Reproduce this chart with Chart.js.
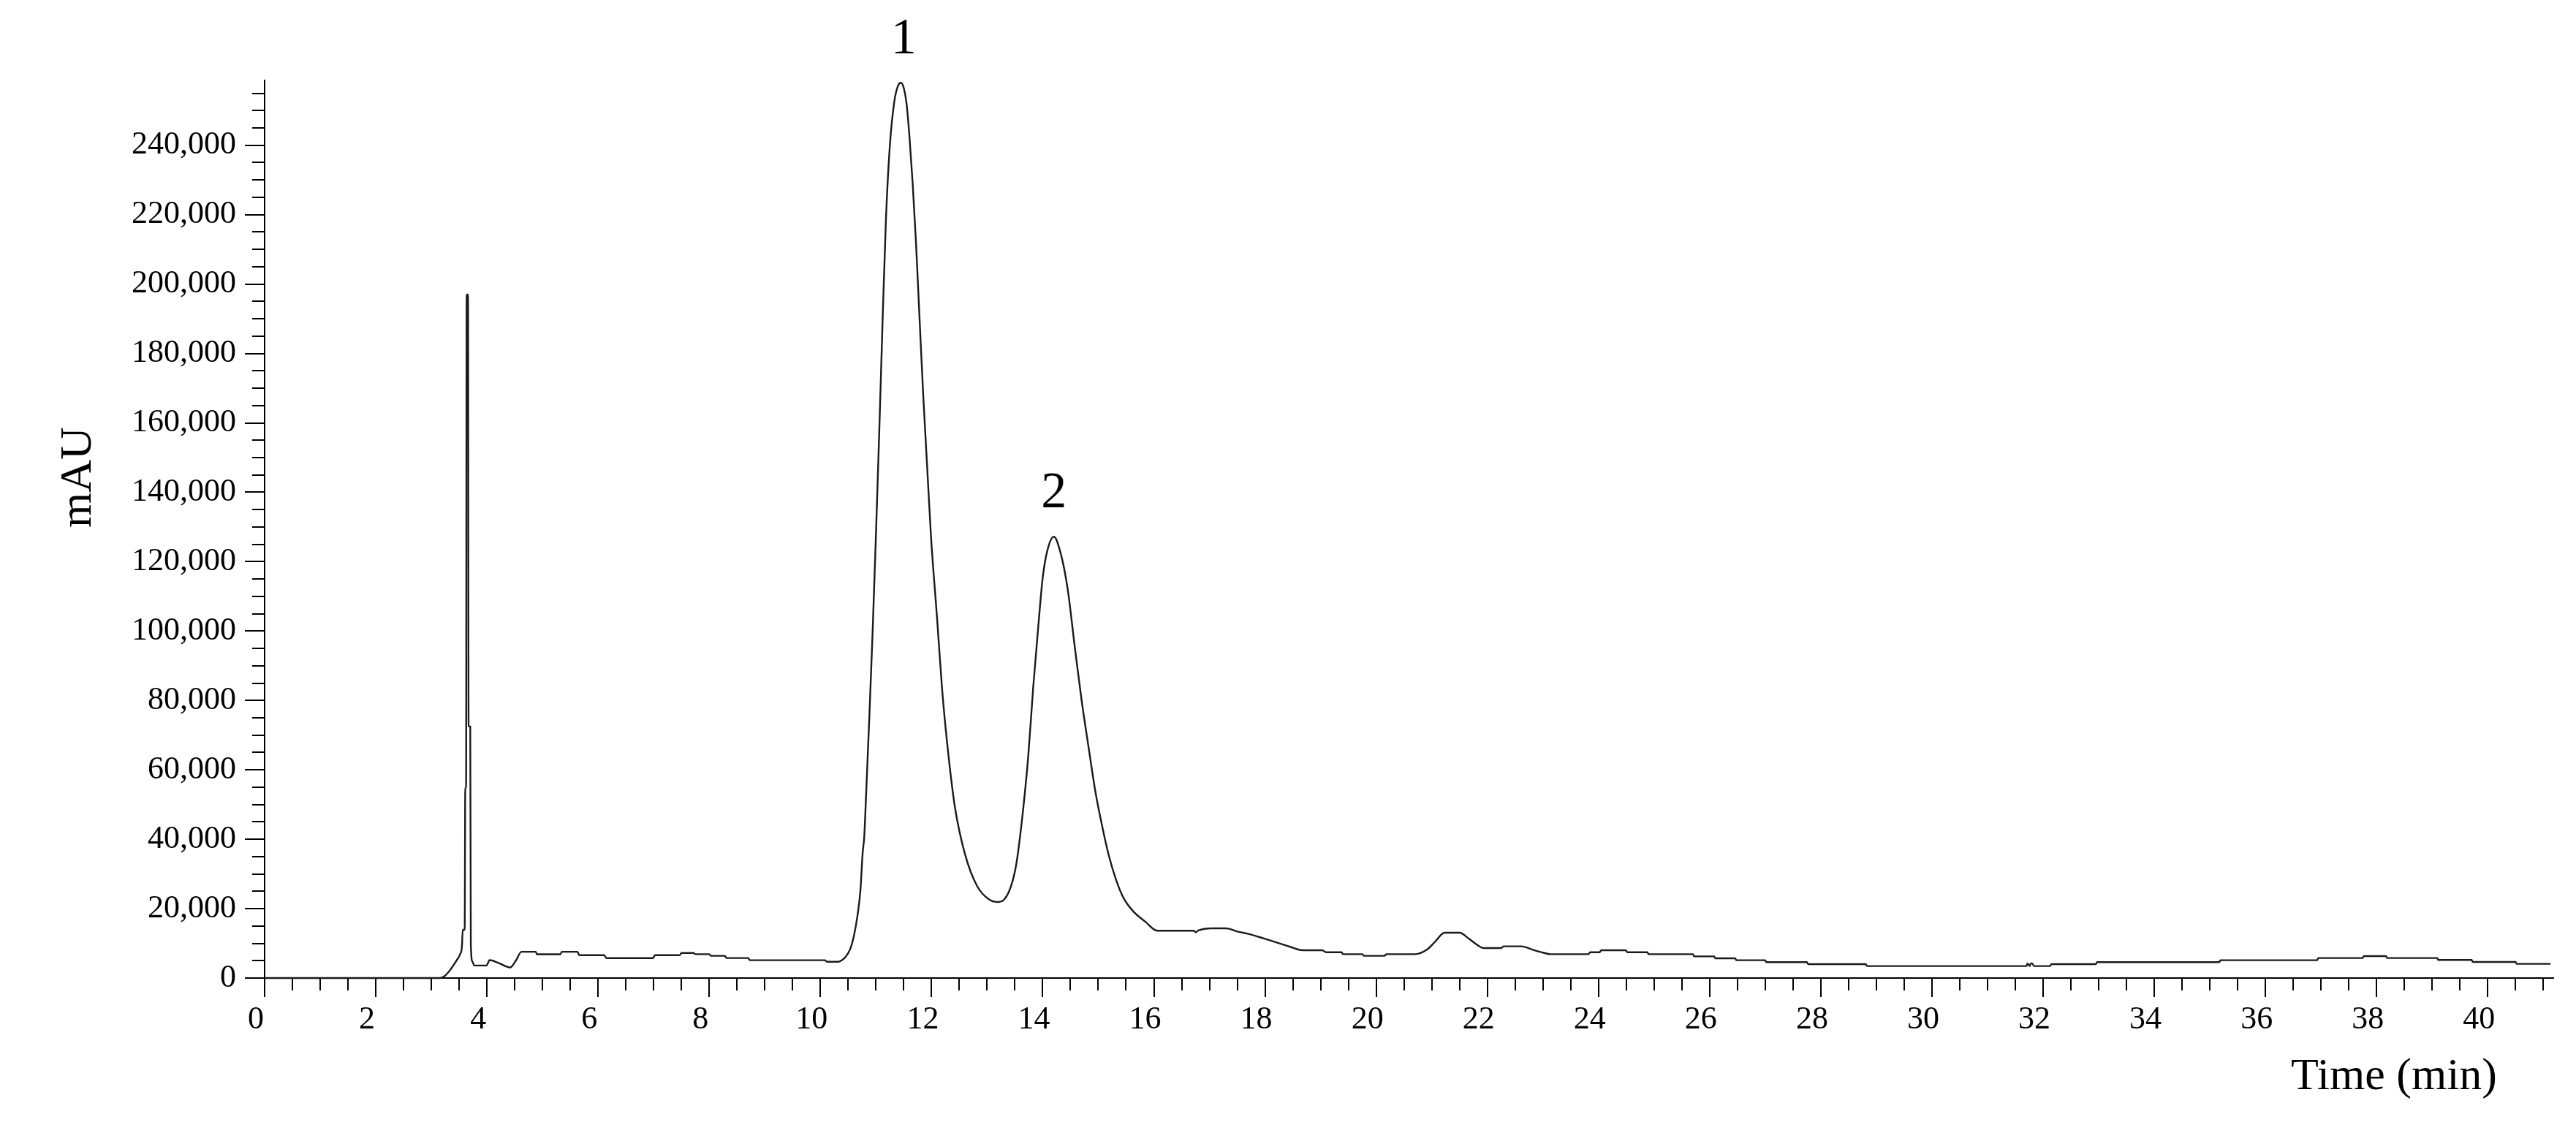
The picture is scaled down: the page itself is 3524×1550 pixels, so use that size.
<!DOCTYPE html>
<html>
<head>
<meta charset="utf-8">
<title>Chromatogram</title>
<script src="https://cdn.jsdelivr.net/npm/chart.js@4.4.1/dist/chart.umd.min.js"></script>
<style>
  html, body { margin: 0; padding: 0; background: #fff; }
  canvas { display: block; }
</style>
</head>
<body>
<canvas id="chromChart" width="3524" height="1550"></canvas>
<script>
// retention time (min) and detector signal (mAU)
const times = [
  0, 3.15, 3.25, 3.35, 3.45, 3.52, 3.55, 3.565, 3.60, 3.61, 3.625, 3.635, 3.66, 3.67, 3.70, 3.71, 3.74, 3.77,
  3.99, 4.05, 4.20, 4.42, 4.52, 4.62, 4.88, 4.90, 5.32, 5.35, 5.63, 5.66, 6.11, 6.15, 6.99, 7.02, 7.47, 7.50,
  7.72, 7.75, 8.00, 8.03, 8.28, 8.31, 8.70, 8.73, 10.08, 10.12, 10.32, 10.40, 10.45, 10.54, 10.61, 10.67, 10.72,
  10.76, 10.79, 10.82, 10.88, 10.94, 11.00, 11.06, 11.12, 11.18, 11.25, 11.33, 11.40, 11.45, 11.50, 11.55, 11.60,
  11.66, 11.72, 11.79, 11.85, 11.92, 11.99, 12.10, 12.19, 12.29, 12.42, 12.60, 12.82, 13.04, 13.21, 13.39, 13.52,
  13.63, 13.74, 13.83, 13.93, 14.00, 14.08, 14.20, 14.33, 14.45, 14.58, 14.70, 14.83, 14.95, 15.08, 15.19, 15.32,
  15.45, 15.63, 15.85, 16.06, 16.72, 16.75, 16.80, 17.03, 17.30, 17.50, 17.74, 17.97, 18.21, 18.44, 18.68, 19.03,
  19.10, 19.38, 19.40, 19.75, 19.78, 20.15, 20.18, 20.70, 20.91, 21.06, 21.23, 21.50, 21.67, 21.85, 21.93, 22.25,
  22.29, 22.61, 22.82, 22.97, 23.14, 23.82, 23.85, 24.02, 24.05, 24.49, 24.52, 24.88, 24.90, 25.70, 25.72, 26.08,
  26.10, 26.46, 26.48, 27.00, 27.02, 27.75, 27.77, 28.81, 28.83, 31.70, 31.72, 31.76, 31.78, 31.80, 31.84, 32.12,
  32.15, 32.95, 32.97, 35.17, 35.19, 36.93, 36.95, 37.75, 37.77, 38.17, 38.19, 39.09, 39.11, 39.71, 39.73, 40.50,
  40.52, 41.13
];
const signal = [
  0, 0, 700, 2600, 5000, 7000, 9000, 13900, 13900, 54800, 54800, 197000, 197000, 72500, 72500, 9700, 4700, 3600,
  3600, 5150, 4400, 3050, 5000, 7560, 7560, 6850, 6850, 7560, 7560, 6570, 6570, 5730, 5730, 6570, 6570, 7200,
  7200, 6880, 6880, 6390, 6390, 5760, 5760, 5130, 5130, 4700, 4700, 5300, 6040, 8500, 12700, 18300, 25300,
  36000, 41000, 52000, 75000, 100000, 128000, 158000, 190000, 219000, 240000, 252600, 257300, 258000, 256500, 252000, 243000,
  229000, 212000, 188000, 168000, 147600, 127200, 103500, 83200, 66300, 49300, 35800, 26500, 22600, 21900, 24800, 32400,
  46000, 64000, 84000, 103200, 115400, 123000, 127200, 122000, 112000, 95000, 80000, 66000, 53500, 43000, 35300, 28300,
  23200, 19200, 16200, 13650, 13650, 13200, 13700, 14330, 14330, 13400, 12570, 11450, 10250, 9060, 8000, 8000,
  7440, 7440, 6880, 6880, 6390, 6390, 6880, 6880, 8150, 10470, 13060, 13060, 11300, 9200, 8640, 8640,
  9130, 9130, 8150, 7440, 6880, 6880, 7440, 7440, 8000, 8000, 7440, 7440, 6880, 6880, 6250, 6250,
  5690, 5690, 5130, 5130, 4570, 4570, 4000, 4000, 3440, 3440, 4250, 3440, 4250, 4250, 3440, 3440,
  4000, 4000, 4570, 4570, 5130, 5130, 5760, 5760, 6320, 6320, 5760, 5760, 5200, 5200, 4640, 4640,
  4080, 4080
];

const xTicks = [0, 2, 4, 6, 8, 10, 12, 14, 16, 18, 20, 22, 24, 26, 28, 30, 32, 34, 36, 38, 40];
const yTicks = [0, 20000, 40000, 60000, 80000, 100000, 120000, 140000, 160000, 180000, 200000, 220000, 240000];
const xMinorStep = 0.5;
const yMinorStep = 5000;

const peakNames = ['1', '2'];
const peakTimes = [11.5, 14.2];
const peakTops = [258000, 127200];

const serif = "'Liberation Serif', 'Times New Roman', serif";

// minor/major tick marks, peak numbers and axis titles
const chromDecor = {
    id: 'chromDecor',
    afterDraw(chart) {
        const ctx = chart.ctx;
        const area = chart.chartArea;
        const x = chart.scales.x;
        const y = chart.scales.y;
        ctx.save();
        ctx.strokeStyle = '#000';
        ctx.lineWidth = 2;
        ctx.beginPath();
        for (let i = 0; i * xMinorStep <= x.max + 1e-9; i++) {
            const px = Math.round(x.getPixelForValue(i * xMinorStep));
            const len = i % 4 === 0 ? 26 : 17;
            ctx.moveTo(px, area.bottom);
            ctx.lineTo(px, area.bottom + len);
        }
        for (let i = 0; i * yMinorStep <= y.max + 1e-9; i++) {
            const py = Math.round(y.getPixelForValue(i * yMinorStep));
            const len = i % 4 === 0 ? 27 : 17;
            ctx.moveTo(area.left, py);
            ctx.lineTo(area.left - len, py);
        }
        ctx.stroke();

        ctx.fillStyle = '#000';
        ctx.textAlign = 'center';
        ctx.textBaseline = 'alphabetic';
        ctx.font = '70px ' + serif;
        peakNames.forEach((name, i) => {
            ctx.fillText(name, x.getPixelForValue(peakTimes[i]), y.getPixelForValue(peakTops[i]) - 40);
        });

        ctx.font = '62px ' + serif;
        ctx.textAlign = 'right';
        ctx.fillText('Time (min)', area.right - 77, area.bottom + 152);

        ctx.translate(124, 653);
        ctx.rotate(-Math.PI / 2);
        ctx.textAlign = 'center';
        ctx.fillText('mAU', 0, 0);
        ctx.restore();
    }
};

const points = times.map((t, i) => ({ x: t, y: signal[i] }));

new Chart(document.getElementById('chromChart'), {
    type: 'line',
    data: {
        datasets: [{
            label: 'mAU',
            data: points,
            borderColor: '#1a1a1a',
            borderWidth: 2.4,
            pointRadius: 0,
            cubicInterpolationMode: 'monotone',
            fill: false,
            clip: 4
        }]
    },
    options: {
        responsive: false,
        animation: false,
        devicePixelRatio: 1,
        layout: { padding: { left: 0, right: 31, top: 110, bottom: 0 } },
        plugins: {
            legend: { display: false },
            tooltip: { enabled: false }
        },
        scales: {
            x: {
                type: 'linear',
                min: 0,
                max: 41.18,
                afterBuildTicks: axis => { axis.ticks = xTicks.map(v => ({ value: v })); },
                afterFit: axis => { axis.height = 212; },
                grid: { display: false, drawTicks: false },
                border: { display: true, color: '#000', width: 2 },
                ticks: {
                    color: '#000',
                    font: { family: serif, size: 44 },
                    padding: 31,
                    labelOffset: -12,
                    autoSkip: false,
                    maxRotation: 0,
                    minRotation: 0,
                    callback: v => String(v)
                }
            },
            y: {
                type: 'linear',
                min: 0,
                max: 258700,
                afterBuildTicks: axis => { axis.ticks = yTicks.map(v => ({ value: v })); },
                afterFit: axis => { axis.width = 362; },
                grid: { display: false, drawTicks: false },
                border: { display: true, color: '#000', width: 2 },
                ticks: {
                    color: '#000',
                    font: { family: serif, size: 44 },
                    padding: 39,
                    autoSkip: false,
                    callback: v => v.toLocaleString('en-US')
                }
            }
        }
    },
    plugins: [chromDecor]
});
</script>
</body>
</html>
